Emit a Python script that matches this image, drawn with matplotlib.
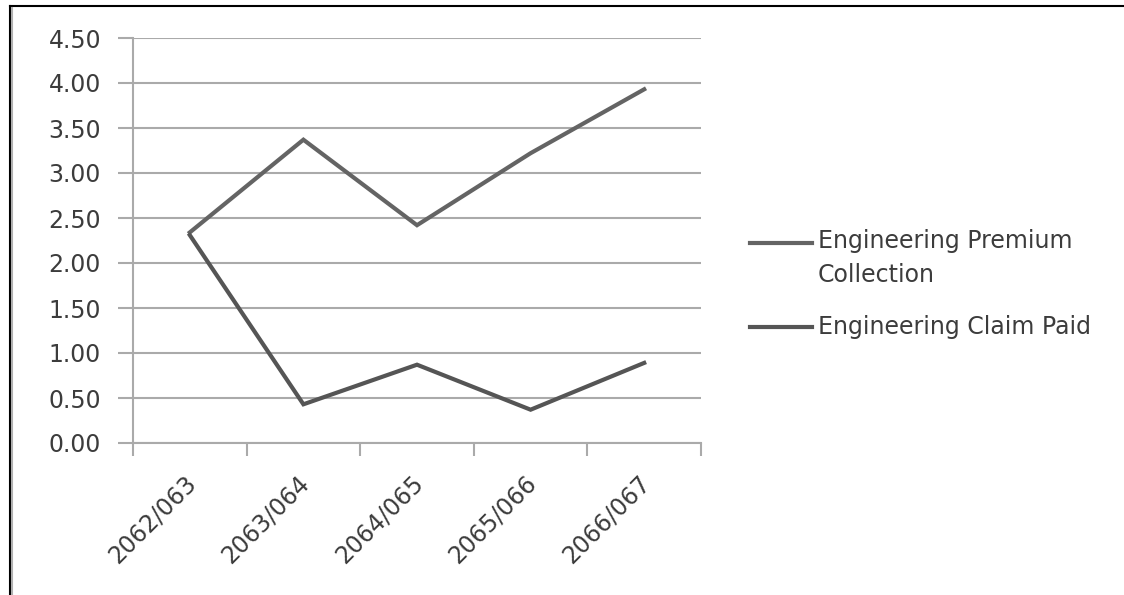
import matplotlib
matplotlib.use("Agg")
import matplotlib.pyplot as plt
from matplotlib.lines import Line2D
from matplotlib.transforms import ScaledTranslation
from matplotlib.ticker import MultipleLocator, FixedLocator, FormatStrFormatter

plt.rcParams['font.family'] = ['DejaVu Sans']

years = ["2062/063", "2063/064", "2064/065", "2065/066", "2066/067"]
premium = [2.34, 3.37, 2.42, 3.22, 3.93]
claims = [2.31, 0.43, 0.87, 0.37, 0.89]
series_names = ["Engineering Premium\nCollection", "Engineering Claim Paid"]
series_colors = ["#646464", "#555555"]

W, H = 1124, 595
fig = plt.figure(figsize=(W / 100, H / 100), dpi=100)
fig.patch.set_facecolor("white")

ax = fig.add_axes([133 / W, 1 - 443 / H, (701 - 133) / W, (443 - 38) / H])
x = list(range(len(years)))
ax.plot(x, premium, color=series_colors[0], lw=3.0, solid_joinstyle="miter")
ax.plot(x, claims, color=series_colors[1], lw=3.0, solid_joinstyle="miter")

ax.set_xlim(-0.5, len(years) - 0.5)
ax.set_ylim(0, 4.5)
ax.yaxis.set_major_locator(MultipleLocator(0.5))
ax.yaxis.set_major_formatter(FormatStrFormatter("%.2f"))
ax.grid(axis="y", color="#aaaaaa", lw=1.5)
ax.set_axisbelow(True)

for s in ("top", "right"):
    ax.spines[s].set_visible(False)
for s in ("left", "bottom"):
    ax.spines[s].set_color("#aaaaaa")
    ax.spines[s].set_linewidth(1.5)

txt_color = "#3c3c3c"
fs = 17
ax.tick_params(axis="y", length=11, width=1.5, color="#aaaaaa",
               labelsize=fs, labelcolor=txt_color, pad=12)

# category labels at centers, tick marks at category boundaries
ax.xaxis.set_major_locator(FixedLocator(x))
ax.set_xticklabels(years, rotation=45, ha="right", rotation_mode="anchor",
                   fontsize=fs, color=txt_color)
ax.tick_params(axis="x", which="major", length=0, pad=20)
shift = ScaledTranslation(-6 / 100, 0, fig.dpi_scale_trans)
for lbl in ax.get_xticklabels():
    lbl.set_transform(lbl.get_transform() + shift)
ax.xaxis.set_minor_locator(FixedLocator([i - 0.5 for i in range(len(years) + 1)]))
ax.tick_params(axis="x", which="minor", length=9, width=1.5, color="#aaaaaa")

# legend drawn to the right of the plot
leg_y = [243, 327]
for name, col, yy in zip(series_names, series_colors, leg_y):
    fy = 1 - yy / H
    fig.add_artist(Line2D([750 / W, 812 / W], [fy, fy], color=col, lw=3.0,
                          transform=fig.transFigure))
    if "\n" in name:
        fig.text(818 / W, fy + 14 / H, name, fontsize=fs, color=txt_color,
                 va="top", ha="left", linespacing=1.55)
    else:
        fig.text(818 / W, fy, name, fontsize=fs, color=txt_color,
                 va="center", ha="left")

# outer frame (top and left edges)
fig.add_artist(Line2D([10 / W, 1], [1 - 6 / H, 1 - 6 / H], color="black", lw=1.5,
                      transform=fig.transFigure))
fig.add_artist(Line2D([10 / W, 10 / W], [0, 1 - 6 / H], color="black", lw=1.5,
                      transform=fig.transFigure))
fig.add_artist(Line2D([12 / W, 12 / W], [0, 1 - 8 / H], color="#b0b0b0", lw=1.5,
                      transform=fig.transFigure))

fig.savefig("out.png", dpi=100, facecolor="white")
